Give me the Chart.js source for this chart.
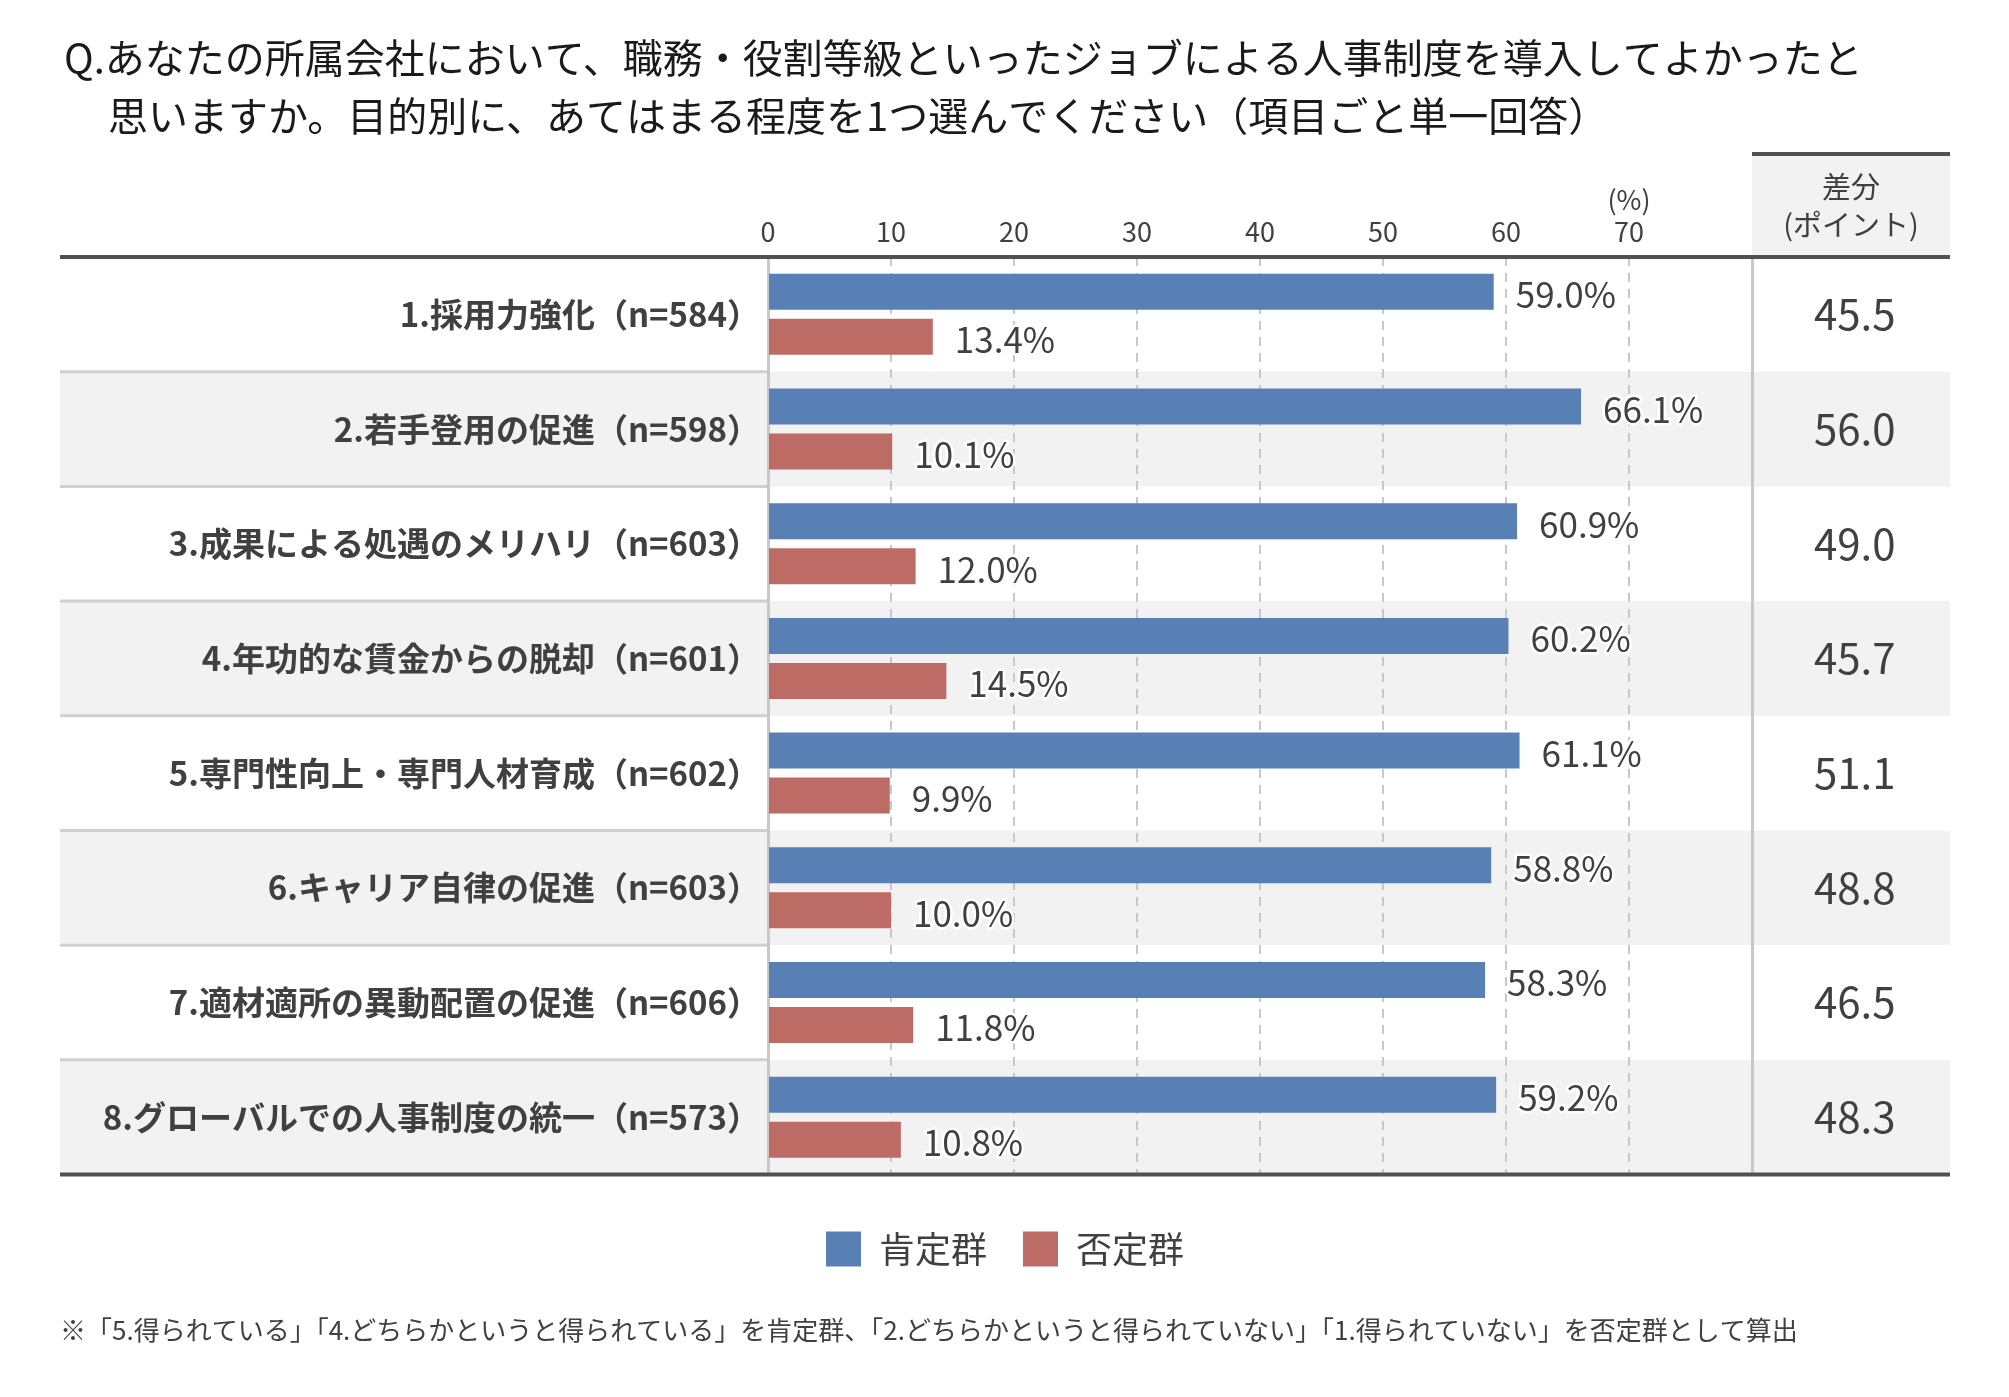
<!DOCTYPE html>
<html lang="ja">

<head>
    <meta charset="UTF-8">
    <title>ジョブ型人事制度 導入効果</title>
    <script src="https://cdn.jsdelivr.net/npm/chart.js"></script>
    <style>
        body { margin: 0; background: #fff; }
        #wrap { width: 2009px; height: 1397px; }
    </style>
</head>

<body>
    <div id="wrap"><canvas id="jobChart"></canvas></div>

    <script>
        // data
        const categories = [
            '1.採用力強化（n=584）',
            '2.若手登用の促進（n=598）',
            '3.成果による処遇のメリハリ（n=603）',
            '4.年功的な賃金からの脱却（n=601）',
            '5.専門性向上・専門人材育成（n=602）',
            '6.キャリア自律の促進（n=603）',
            '7.適材適所の異動配置の促進（n=606）',
            '8.グローバルでの人事制度の統一（n=573）'
        ];
        const positive = [59.0, 66.1, 60.9, 60.2, 61.1, 58.8, 58.3, 59.2];
        const negative = [13.4, 10.1, 12.0, 14.5, 9.9, 10.0, 11.8, 10.8];
        const diffPoints = ['45.5', '56.0', '49.0', '45.7', '51.1', '48.8', '46.5', '48.3'];
        const seriesNames = ['肯定群', '否定群'];
        const xTicks = [0, 10, 20, 30, 40, 50, 60, 70];

        const titleLines = [
            'Q.あなたの所属会社において、職務・役割等級といったジョブによる人事制度を導入してよかったと',
            '思いますか。目的別に、あてはまる程度を1つ選んでください（項目ごと単一回答）'
        ];
        const footnote = '※「5.得られている」「4.どちらかというと得られている」を肯定群、「2.どちらかというと得られていない」「1.得られていない」を否定群として算出';

        const FONT = "'Noto Sans CJK JP', 'Noto Sans', sans-serif";
        const TEXT = '#404040';
        Chart.defaults.font.family = FONT;
        Chart.defaults.color = TEXT;

        const decor = {
            id: 'decor',
            beforeDraw(chart) {
                const { ctx, chartArea: a, scales } = chart;
                const left = scales.y.left, right = scales.y2.right;
                const rowH = (a.bottom - a.top) / categories.length;
                ctx.save();
                ctx.fillStyle = '#f2f2f2';
                categories.forEach((c, i) => {
                    if (i % 2 === 1) ctx.fillRect(left, a.top + i * rowH, right - left, rowH);
                });
                // header cell of the diff column
                ctx.fillRect(a.right, 154, right - a.right, a.top - 154);
                ctx.restore();
            },
            afterDatasetsDraw(chart) {
                const { ctx } = chart;
                ctx.save();
                ctx.font = '35px ' + FONT;
                ctx.textAlign = 'left';
                ctx.textBaseline = 'middle';
                ctx.lineJoin = 'round';
                chart.data.datasets.forEach((ds, di) => {
                    chart.getDatasetMeta(di).data.forEach((bar, i) => {
                        const txt = ds.data[i].toFixed(1) + '%';
                        ctx.strokeStyle = '#fff';
                        ctx.lineWidth = 5;
                        ctx.strokeText(txt, bar.x + 22, bar.y + 3);
                        ctx.fillStyle = TEXT;
                        ctx.fillText(txt, bar.x + 22, bar.y + 3);
                    });
                });
                ctx.restore();
            },
            afterDraw(chart) {
                const { ctx, chartArea: a, scales } = chart;
                const left = scales.y.left, right = scales.y2.right;
                const rowH = (a.bottom - a.top) / categories.length;
                ctx.save();

                // row separators in the label column
                ctx.strokeStyle = '#d0d0d0';
                ctx.lineWidth = 3;
                for (let i = 1; i < categories.length; i++) {
                    const y = a.top + i * rowH;
                    ctx.beginPath();
                    ctx.moveTo(left, y);
                    ctx.lineTo(a.left - 1, y);
                    ctx.stroke();
                }

                // heavy rules
                ctx.strokeStyle = '#505050';
                ctx.lineWidth = 4;
                [a.top, a.bottom].forEach(y => {
                    ctx.beginPath();
                    ctx.moveTo(left, y);
                    ctx.lineTo(right, y);
                    ctx.stroke();
                });
                ctx.beginPath();
                ctx.moveTo(a.right, 154);
                ctx.lineTo(right, 154);
                ctx.stroke();

                // header text of diff column
                const cx = (a.right + right) / 2;
                ctx.fillStyle = TEXT;
                ctx.textAlign = 'center';
                ctx.textBaseline = 'middle';
                ctx.font = '29px ' + FONT;
                ctx.fillText('差分', cx, 187);
                ctx.fillText('(ポイント)', cx, 225);

                // title
                ctx.fillStyle = '#1a1a1a';
                ctx.textAlign = 'left';
                ctx.font = '40px ' + FONT;
                ctx.fillText(titleLines[0], 64, 58);
                ctx.fillText(titleLines[1], 108, 116);

                // footnote
                ctx.fillStyle = TEXT;
                ctx.font = '26px ' + FONT;
                ctx.fillText(footnote, 60, 1330);
                ctx.restore();
            }
        };

        const ctx = document.getElementById('jobChart').getContext('2d');
        const jobChart = new Chart(ctx, {
            type: 'bar',
            data: {
                labels: categories,
                datasets: [{
                    label: seriesNames[0],
                    data: positive,
                    backgroundColor: '#5880b5',
                    borderWidth: 0
                }, {
                    label: seriesNames[1],
                    data: negative,
                    backgroundColor: '#bd6b65',
                    borderWidth: 0
                }]
            },
            options: {
                indexAxis: 'y',
                responsive: true,
                maintainAspectRatio: false,
                animation: false,
                devicePixelRatio: 1,
                barPercentage: 0.8,
                categoryPercentage: 0.785,
                layout: { padding: { top: 150, left: 60, right: 59, bottom: 120 } },
                scales: {
                    x: {
                        type: 'linear',
                        position: 'top',
                        min: 0,
                        max: 80,
                        afterBuildTicks: s => { s.ticks = xTicks.concat([80]).map(v => ({ value: v })); },
                        afterFit: s => { s.height = 107; },
                        ticks: {
                            padding: 9,
                            font: { size: 27 },
                            color: TEXT,
                            maxRotation: 0,
                            callback: v => v === 70 ? ['(%)', '70'] : (xTicks.includes(v) ? String(v) : '')
                        },
                        grid: {
                            drawTicks: false,
                            color: ctx => (ctx.tick && ctx.tick.value > 0 && ctx.tick.value < 80) ? '#c8c8c8' : 'rgba(0,0,0,0)',
                            lineWidth: 2
                        },
                        border: { display: false, dash: [9, 7] }
                    },
                    y: {
                        position: 'left',
                        afterFit: s => { s.width = 708; },
                        ticks: {
                            padding: 8,
                            font: { size: 33, weight: 'bold' },
                            color: TEXT
                        },
                        grid: { display: false, drawTicks: false },
                        border: { display: true, color: '#c8c8c8', width: 3 }
                    },
                    y2: {
                        type: 'category',
                        position: 'right',
                        labels: diffPoints,
                        offset: true,
                        afterFit: s => { s.width = 198; },
                        ticks: {
                            padding: 62,
                            crossAlign: 'center',
                            font: { size: 42 },
                            color: TEXT
                        },
                        grid: { display: false, drawTicks: false },
                        border: { display: true, color: '#c8c8c8', width: 3 }
                    }
                },
                plugins: {
                    legend: {
                        position: 'bottom',
                        title: { display: true, text: '', font: { size: 1, lineHeight: 1 }, padding: { top: 19.5, bottom: 0 } },
                        labels: {
                            boxWidth: 35,
                            boxHeight: 35,
                            padding: 36,
                            font: { size: 36 },
                            color: TEXT
                        }
                    },
                    tooltip: { enabled: false }
                }
            },
            plugins: [decor]
        });
    </script>
</body>

</html>
